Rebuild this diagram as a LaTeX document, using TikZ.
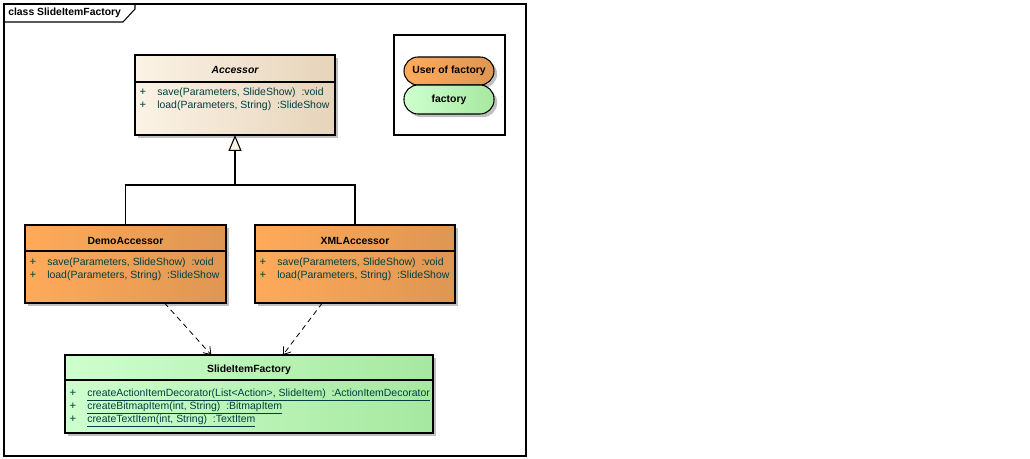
\documentclass[tikz,border=0pt]{standalone}
\usepackage{fontspec}
\setmainfont{Liberation Sans}
\usetikzlibrary{arrows.meta,shadows}

\definecolor{accleft}{RGB}{251,243,230}
\definecolor{accright}{RGB}{230,212,186}
\definecolor{userleft}{RGB}{255,170,90}
\definecolor{userright}{RGB}{222,150,82}
\definecolor{factleft}{RGB}{206,255,206}
\definecolor{factright}{RGB}{166,232,160}
\definecolor{optext}{RGB}{0,64,64}
\definecolor{shadowgray}{RGB}{192,192,192}

\begin{document}
\begin{tikzpicture}[x=0.75pt,y=-0.75pt,
	every node/.style={font=\fontsize{7.85}{9}\selectfont},
	classbox/.style={draw,line width=0.8pt,inner sep=0pt,outer sep=0pt,
		drop shadow={shadow xshift=2.3pt,shadow yshift=-2.3pt,opacity=1,fill=shadowgray}},
	pill/.style={classbox,rounded corners=10.5pt,minimum width=67.5pt},
	title/.style={font=\fontsize{7.8}{9}\selectfont\bfseries},
	op/.style={anchor=base west,inner sep=0pt,text=optext},
	plus/.style={anchor=base,inner sep=0pt,text=optext,font=\fontsize{8.5}{9}\selectfont},
	dep/.style={dash pattern=on 4pt off 3pt,-{Straight Barb[length=5pt,width=7pt]}},
	inherit/.style={-{Triangle[length=12pt,width=9.75pt,fill=accleft]}}]

		\useasboundingbox (0,0) rectangle (1030,459);

		% frame
		\draw[line width=0.8pt] (4,4) rectangle (526,456);
		\draw[line width=0.8pt] (4,22) -- (123,22) -- (135,9) -- (135,4);
		\node[title,anchor=west,inner sep=0pt] (frametitle) at (8,13) {class SlideItemFactory};

		% classes
		\node[classbox,left color=accleft,right color=accright,
			minimum width=150pt,minimum height=60pt] (accessor) at (235,95) {};
		\node[classbox,left color=userleft,right color=userright,
			minimum width=150.75pt,minimum height=58.5pt] (demo) at (125.5,264) {};
		\node[classbox,left color=userleft,right color=userright,
			minimum width=150pt,minimum height=58.5pt] (xml) at (355,264) {};
		\node[classbox,left color=factleft,right color=factright,
			minimum width=276pt,minimum height=58.5pt] (factory) at (249,394) {};

		\draw[line width=0.8pt] (135,82) -- (335,82);
		\draw[line width=0.8pt] (25,251) -- (226,251);
		\draw[line width=0.8pt] (255,251) -- (455,251);
		\draw[line width=0.8pt] (65,380) -- (433,380);

		\node[title,font=\fontsize{7.8}{9}\selectfont\bfseries\itshape] (acctitle) at (235,70) {Accessor};
		\node[plus] at (143,96) {+};
		\node[plus] at (143,109) {+};
		\node[op] at (157,96) {save(Parameters, SlideShow)\ \ :void};
		\node[op] at (157,109) {load(Parameters, String)\ \ :SlideShow};

		\node[title] (demotitle) at (125.5,241) {DemoAccessor};
		\node[plus] at (33,266) {+};
		\node[plus] at (33,279) {+};
		\node[op] at (47,266) {save(Parameters, SlideShow)\ \ :void};
		\node[op] at (47,279) {load(Parameters, String)\ \ :SlideShow};

		\node[title] (xmltitle) at (355,241) {XMLAccessor};
		\node[plus] at (263,266) {+};
		\node[plus] at (263,279) {+};
		\node[op] at (277,266) {save(Parameters, SlideShow)\ \ :void};
		\node[op] at (277,279) {load(Parameters, String)\ \ :SlideShow};

		\node[title] (facttitle) at (249,370) {SlideItemFactory};
		\node[plus] at (73,396) {+};
		\node[plus] at (73,409) {+};
		\node[plus] at (73,422) {+};
		\node[op] at (87,396) {\underline{createActionItemDecorator(List<Action>, SlideItem)\ \ :ActionItemDecorator}};
		\node[op] at (87,409) {\underline{createBitmapItem(int, String)\ \ :BitmapItem}};
		\node[op] at (87,422) {\underline{createTextItem(int, String)\ \ :TextItem}};

		% generalization
		\coordinate (joint) at (235,185);
		\draw[line width=0.8pt] (demo.north) |- (joint) -| (xml.north);
		\draw[line width=0.8pt,inherit] (joint) -- (accessor.south);

		% dependencies
		\draw[line width=0.6pt,dep] (demo.-45) -- (factory.134);
		\draw[line width=0.6pt,dep] (xml.-130) -- (factory.49);

		% legend
		\draw[line width=0.8pt] (394,35) rectangle (505,135);
		\node[pill,title,left color=userleft,right color=userright,
			minimum height=21pt] (user) at (449,71) {User of factory};
		\node[pill,title,left color=factleft,right color=factright,
			minimum height=21.75pt] (fact) at (449,99.5) {factory};

		\end{tikzpicture}
\end{document}
